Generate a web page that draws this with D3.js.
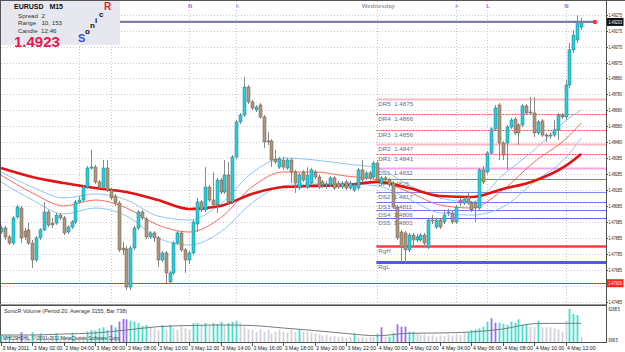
<!DOCTYPE html>
<html>
<head>
<meta charset="utf-8">
<script src="https://cdn.jsdelivr.net/npm/d3@7"></script>
<style>
body{margin:0;background:#fff;}
svg{display:block;font-family:"Liberation Sans",Arial,sans-serif;}
</style>
</head>
<body>
<div id="chart"></div>
<script>
// EURUSD M15, 3 May 2011 00:00 .. 4 May 2011 13:00 (one entry per bar)
var opens = [
1.47920,1.47945,1.47889,1.47851,1.48014,1.48070,1.47926,1.47933,1.47851,1.47745,
1.47883,1.47933,1.48045,1.47976,1.47976,1.48026,1.48008,1.47920,1.47951,1.47983,
1.48108,1.48120,1.48201,1.48320,1.48326,1.48233,1.48201,1.48320,1.48183,1.48145,
1.48101,1.47820,1.47814,1.47576,1.47820,1.47945,1.48045,1.48001,1.47889,1.47914,
1.47883,1.47745,1.47789,1.47608,1.47664,1.47851,1.47914,1.47808,1.47745,1.47789,
1.47970,1.48108,1.48058,1.48201,1.48120,1.48089,1.48245,1.48170,1.48276,1.48108,
1.48389,1.48608,1.48651,1.48826,1.48733,1.48683,1.48714,1.48639,1.48489,1.48489,
1.48376,1.48326,1.48370,1.48320,1.48370,1.48295,1.48195,1.48295,1.48201,1.48226,
1.48295,1.48264,1.48233,1.48214,1.48214,1.48258,1.48226,1.48201,1.48233,1.48195,
1.48183,1.48195,1.48308,1.48258,1.48289,1.48264,1.48351,1.48226,1.48258,1.48245,
1.48226,1.48076,1.47920,1.47914,1.47808,1.47901,1.47870,1.47870,1.47901,1.47826,
1.47995,1.47951,1.47995,1.47983,1.48039,1.48039,1.47983,1.48120,1.48101,1.48139,
1.48101,1.48101,1.48070,1.48308,1.48295,1.48414,1.48564,1.48714,1.48476,1.48476,
1.48576,1.48626,1.48589,1.48589,1.48708,1.48670,1.48664,1.48539,1.48614,1.48526,
1.48520,1.48526,1.48558,1.48651,1.48639,1.48839,1.49058,1.49120,1.49201];
var highs = [
1.47958,1.47958,1.47901,1.48020,1.48089,1.48083,1.47945,1.47976,1.47870,1.47895,
1.47945,1.48108,1.48058,1.48008,1.48039,1.48039,1.48020,1.47964,1.47995,1.48120,
1.48145,1.48214,1.48333,1.48433,1.48339,1.48245,1.48370,1.48370,1.48195,1.48158,
1.48114,1.47858,1.47833,1.47833,1.47958,1.48058,1.48058,1.48014,1.47926,1.47926,
1.47895,1.47801,1.47801,1.47676,1.47864,1.47926,1.47926,1.47820,1.47801,1.47995,
1.48133,1.48120,1.48326,1.48214,1.48295,1.48258,1.48258,1.48370,1.48358,1.48401,
1.48620,1.48664,1.48889,1.48839,1.48745,1.48714,1.48726,1.48651,1.48545,1.48501,
1.48433,1.48389,1.48389,1.48383,1.48383,1.48308,1.48289,1.48308,1.48326,1.48320,
1.48308,1.48276,1.48245,1.48239,1.48270,1.48270,1.48239,1.48239,1.48245,1.48239,
1.48226,1.48320,1.48370,1.48301,1.48301,1.48364,1.48370,1.48270,1.48270,1.48258,
1.48239,1.48089,1.47933,1.47926,1.47914,1.47914,1.47908,1.47914,1.47914,1.48008,
1.48026,1.48008,1.48008,1.48058,1.48064,1.48051,1.48089,1.48133,1.48139,1.48170,
1.48114,1.48114,1.48320,1.48333,1.48426,1.48576,1.48714,1.48726,1.48489,1.48589,
1.48633,1.48639,1.48601,1.48720,1.48720,1.48764,1.48764,1.48620,1.48626,1.48539,
1.48539,1.48620,1.48664,1.48664,1.48870,1.49101,1.49183,1.49276,1.49258];
var lows = [
1.47908,1.47870,1.47839,1.47839,1.48001,1.47851,1.47870,1.47839,1.47695,1.47733,
1.47870,1.47926,1.47951,1.47945,1.47964,1.47995,1.47901,1.47908,1.47939,1.47970,
1.48095,1.48108,1.48189,1.48308,1.48220,1.48189,1.48189,1.48170,1.48120,1.48083,
1.47795,1.47776,1.47558,1.47558,1.47808,1.47933,1.47995,1.47876,1.47876,1.47858,
1.47701,1.47733,1.47601,1.47595,1.47651,1.47839,1.47795,1.47664,1.47720,1.47776,
1.47920,1.48045,1.48045,1.48108,1.48076,1.48039,1.48158,1.48158,1.48095,1.48095,
1.48376,1.48595,1.48639,1.48720,1.48683,1.48670,1.48626,1.48445,1.48464,1.48326,
1.48345,1.48314,1.48308,1.48308,1.48226,1.48164,1.48183,1.48233,1.48189,1.48214,
1.48251,1.48189,1.48195,1.48189,1.48201,1.48183,1.48189,1.48189,1.48183,1.48183,
1.48170,1.48183,1.48233,1.48245,1.48245,1.48251,1.48233,1.48214,1.48233,1.48201,
1.48064,1.47870,1.47733,1.47726,1.47795,1.47826,1.47858,1.47858,1.47826,1.47814,
1.47970,1.47939,1.47939,1.47970,1.48020,1.47970,1.47970,1.48083,1.48089,1.48089,
1.48045,1.47983,1.48058,1.48220,1.48283,1.48401,1.48551,1.48370,1.48370,1.48308,
1.48564,1.48526,1.48464,1.48576,1.48651,1.48651,1.48514,1.48526,1.48514,1.48483,
1.48501,1.48514,1.48495,1.48626,1.48620,1.48820,1.49039,1.49101,1.49183];
var closes = [
1.47945,1.47889,1.47851,1.48008,1.48076,1.47883,1.47889,1.47851,1.47745,1.47883,
1.47933,1.48045,1.47964,1.47964,1.48026,1.48008,1.47914,1.47951,1.47983,1.48108,
1.48120,1.48201,1.48320,1.48326,1.48233,1.48201,1.48320,1.48183,1.48133,1.48101,
1.47808,1.47808,1.47576,1.47820,1.47945,1.48045,1.48008,1.47889,1.47914,1.47883,
1.47745,1.47789,1.47664,1.47664,1.47851,1.47914,1.47808,1.47745,1.47789,1.47983,
1.48108,1.48058,1.48201,1.48120,1.48089,1.48245,1.48170,1.48276,1.48108,1.48389,
1.48608,1.48651,1.48826,1.48733,1.48695,1.48701,1.48639,1.48483,1.48483,1.48370,
1.48358,1.48376,1.48326,1.48370,1.48295,1.48226,1.48276,1.48245,1.48276,1.48308,
1.48264,1.48201,1.48214,1.48220,1.48258,1.48195,1.48201,1.48226,1.48195,1.48226,
1.48214,1.48308,1.48245,1.48289,1.48258,1.48351,1.48245,1.48258,1.48245,1.48214,
1.48076,1.47883,1.47826,1.47808,1.47901,1.47870,1.47889,1.47901,1.47851,1.47995,
1.47989,1.47995,1.47951,1.48026,1.48045,1.47983,1.48076,1.48101,1.48126,1.48101,
1.48058,1.48070,1.48308,1.48233,1.48414,1.48564,1.48695,1.48476,1.48401,1.48576,
1.48620,1.48539,1.48539,1.48708,1.48664,1.48664,1.48539,1.48608,1.48526,1.48520,
1.48526,1.48558,1.48651,1.48639,1.48839,1.49058,1.49151,1.49233,1.49233];

// volume per bar, and its colour class (t = above average, p = climax, g = low)
var volumes = [
1600,1600,1600,1300,1400,2100,1600,1300,2100,1500,
1900,1100,1300,1200,1900,1400,1300,1200,2000,1500,
1300,1500,2200,2500,2400,2800,3000,2500,3400,3000,
4000,4470,4420,4170,3990,3750,3200,3390,3090,2800,
2500,3390,2620,3390,2800,2500,3090,2800,2600,3750,
3750,3390,3750,3200,3750,3570,3930,3390,3750,3930,
4170,3750,3090,2620,2500,2190,2620,2190,2500,1900,
2190,2500,2190,2010,2500,2190,2620,2190,2190,2010,
1900,1700,1500,1600,1300,1400,1200,1300,1100,1200,
1900,1100,1200,1000,1300,1200,1900,2980,1290,1290,
2010,3520,3090,3090,2190,2190,1900,1600,1700,1500,
1600,1300,1500,1400,1700,1500,1800,1600,2010,2190,
2495,2620,2800,3090,3990,4600,3810,3810,3570,3390,
3990,3810,4420,3390,3570,3090,2980,4170,2980,2980,
2980,2800,2620,2190,4170,6268,5370,5190,1290];
var volClass =
"tgtggpggtg"+"tgggtgggtg"+"ggttttttpt"+"ppptttttgg"+"gtgtgggggt"+
"tgtgtttgtt"+"tggggggggg"+"ggggggtggg"+"gggggggggg"+"tgggggtpgt"+
"tpppttgggg"+"gggggggggt"+"tttttppttt"+"tttttggtgg"+"gggggtttg";

// Sonic R dragon, read every 8 bars
var lineBars  = [0,8,16,24,32,40,48,56,64,72,80,88,96,104,112,120,128,136,144,148];
var emaHigh   = [1.48295,1.48201,1.48133,1.48158,1.48120,1.48020,1.47995,1.48095,1.48289,1.48383,1.48370,1.48345,1.48320,1.48214,1.48133,1.48108,1.48276,1.48433,1.48614,1.48683];
var emaClose  = [1.48276,1.48164,1.48083,1.48120,1.48070,1.47964,1.47920,1.48008,1.48201,1.48295,1.48295,1.48270,1.48245,1.48170,1.48089,1.48070,1.48183,1.48358,1.48501,1.48601];
var emaLow    = [1.48233,1.48120,1.48033,1.48070,1.48020,1.47883,1.47839,1.47920,1.48101,1.48208,1.48220,1.48220,1.48208,1.48126,1.48039,1.48026,1.48076,1.48233,1.48383,1.48508];
var ema89     = [1.48320,1.48264,1.48226,1.48195,1.48170,1.48120,1.48064,1.48083,1.48158,1.48201,1.48208,1.48214,1.48233,1.48195,1.48145,1.48139,1.48189,1.48239,1.48333,1.48408];
var volAverage= [1597,1600,1780,1960,2500,3090,3300,3390,3300,2850,2400,1870,1470,1900,1960,2140,2670,3630,3700,3700];

// pivot levels of 4 May
var levelNames  = ["DR5","DR4","DR3","DR2","DR1","DS1","DP","DS2","DS3","DS4","DS5","RgH","RgL"];
var levelValues = [1.4875,1.4866,1.4856,1.4847,1.4841,1.4832,1.4825,1.4817,1.4811,1.4806,1.4801,1.4783,1.4773];
var levelStart  = 96;

// session separators
var sessionBars = [20,28,48,60,96,116,124,144];
var sessionTags = [">","L","N","<","Wednesday",">","L","N"];

// axes
var priceTicks = [1.49275,1.49175,1.49075,1.48975,1.48880,1.48780,1.48680,1.48580,1.48480,1.48385,
                  1.48285,1.48185,1.48085,1.47985,1.47885,1.47785,1.47685,1.47585,1.47485];
var timeTicks  = [0,8,16,24,32,40,48,56,64,72,80,88,96,104,112,120,128,136,144];
var timeLabels = ["3 May 2011","3 May 02:00","3 May 04:00","3 May 06:00","3 May 08:00","3 May 10:00",
                  "3 May 12:00","3 May 14:00","3 May 16:00","3 May 18:00","3 May 20:00","3 May 22:00",
                  "4 May 00:00","4 May 02:00","4 May 04:00","4 May 06:00","4 May 08:00","4 May 10:00","4 May 12:00"];
var volTicks   = [6268.5, 698.5];

var bidPrice = 1.49233, bidMarkBar = 151.5, alertPrice = 1.47600;
var infoLines = ["Spread  2","Range   10, 153","Candle  12:46"];

var W = 625, H = 352, axisX = 606;

var svg = d3.select("#chart").append("svg").attr("width", W).attr("height", H);

var x  = d3.scaleLinear().domain([0, 148]).range([1, 581.2]);
var y  = d3.scaleLinear().domain([1.4747, 1.4937]).range([304, 0]);
var yv = d3.scaleLinear().domain([340, 6268.5]).range([342, 309]);
var px = function(v){ return Math.round(v) + 0.5; };

svg.append("rect").attr("width", W).attr("height", H).attr("fill", "#fff");

// grid
svg.append("g").selectAll("line").data(priceTicks).enter().append("line")
   .attr("x1", 1).attr("x2", axisX)
   .attr("y1", function(d){ return px(y(d)); }).attr("y2", function(d){ return px(y(d)); })
   .attr("stroke", "#cdcdcd").attr("stroke-dasharray", "1,2");

svg.append("g").selectAll("line").data(sessionBars).enter().append("line")
   .attr("x1", function(d){ return px(x(d)); }).attr("x2", function(d){ return px(x(d)); })
   .attr("y1", 1).attr("y2", 304)
   .attr("stroke", "#c4c4dc").attr("stroke-dasharray", "1,2");

svg.append("g").selectAll("text").data(sessionBars).enter().append("text")
   .attr("x", function(d){ return x(d) + 1; }).attr("y", 8)
   .attr("text-anchor", "middle").attr("font-size", 6).attr("font-weight", "bold")
   .attr("fill", function(d, i){ return sessionTags[i] == "Wednesday" ? "#9a9aae" : "#a070ee"; })
   .text(function(d, i){ return sessionTags[i]; });

// alert line near the bottom
svg.append("line").attr("x1", 1).attr("x2", axisX)
   .attr("y1", px(y(alertPrice))).attr("y2", px(y(alertPrice)))
   .attr("stroke", "#ff3030").attr("stroke-width", 1);

// pivot levels
var levelStyle = {
  DR5:["#ffb8c4",2,null], DR4:["#ff5050",1,"2,1"], DR3:["#ff5050",1,"2,1"], DR2:["#ffb8c4",2,null],
  DR1:["#ff5050",1,"2,1"], DS1:["#f4a6ea",2,null], DP:["#7078f0",1,null], DS2:["#8088f0",1,null],
  DS3:["#7078f0",1,null], DS4:["#7078f0",1,null], DS5:["#6068f0",1,null], RgH:["#ff3b3b",2.5,null],
  RgL:["#5058f0",3,null]
};
var lv = svg.append("g");
lv.selectAll("line").data(levelValues).enter().append("line")
  .attr("x1", x(levelStart) - 1).attr("x2", axisX)
  .attr("y1", function(d){ return px(y(d)); }).attr("y2", function(d){ return px(y(d)); })
  .attr("stroke", function(d, i){ return levelStyle[levelNames[i]][0]; })
  .attr("stroke-width", function(d, i){ return levelStyle[levelNames[i]][1]; })
  .attr("stroke-dasharray", function(d, i){ return levelStyle[levelNames[i]][2]; });
lv.selectAll("text").data(levelValues).enter().append("text")
  .attr("x", x(levelStart) + 1).attr("y", function(d){ return y(d) + 7; })
  .attr("font-size", 6.2).attr("fill", "#6a6a8c").attr("xml:space", "preserve")
  .text(function(d, i){
    var n = levelNames[i];
    return (n == "RgH" || n == "RgL") ? n : n + "  " + d3.format(".4f")(d);
  });

// Sonic R lines
var line = function(vals){
  return d3.line().x(function(d, i){ return x(lineBars[i]); })
               .y(function(d){ return y(d); }).curve(d3.curveMonotoneX)(vals);
};
svg.append("path").attr("d", line(emaHigh)).attr("fill", "none").attr("stroke", "#86bdf2").attr("stroke-width", 0.9);
svg.append("path").attr("d", line(emaLow)).attr("fill", "none").attr("stroke", "#86bdf2").attr("stroke-width", 0.9);
svg.append("path").attr("d", line(emaClose)).attr("fill", "none").attr("stroke", "#ff5a48").attr("stroke-width", 0.9);
svg.append("path").attr("d", line(ema89)).attr("fill", "none").attr("stroke", "#e01414").attr("stroke-width", 2.6);

// candles
var idx = d3.range(opens.length);
var cg = svg.append("g");
cg.selectAll("line").data(idx).enter().append("line")
  .attr("x1", function(i){ return px(x(i)); }).attr("x2", function(i){ return px(x(i)); })
  .attr("y1", function(i){ return y(highs[i]); }).attr("y2", function(i){ return y(lows[i]); })
  .attr("stroke", "#8a8a8a").attr("stroke-width", 1);
cg.selectAll("rect").data(idx).enter().append("rect")
  .attr("x", function(i){ return Math.round(x(i)) - 1; })
  .attr("width", 3)
  .attr("y", function(i){ return y(Math.max(opens[i], closes[i])); })
  .attr("height", function(i){ return Math.max(1, Math.abs(y(opens[i]) - y(closes[i]))); })
  .attr("fill", function(i){ return closes[i] >= opens[i] ? "#26cddc" : "#ad977f"; })
  .attr("stroke", function(i){ return closes[i] >= opens[i] ? "#1d7f8a" : "#6e5e4c"; })
  .attr("stroke-width", 0.5);

// bid line with marker
svg.append("line").attr("x1", 1).attr("x2", x(bidMarkBar))
   .attr("y1", y(bidPrice)).attr("y2", y(bidPrice))
   .attr("stroke", "#7c7ca6").attr("stroke-width", 2.4);
svg.append("circle").attr("cx", x(bidMarkBar)).attr("cy", y(bidPrice)).attr("r", 2.2).attr("fill", "#ff3030");

// info box
var ib = svg.append("g");
ib.append("rect").attr("x", 0).attr("y", 0).attr("width", 120).attr("height", 45).attr("fill", "#e7e7f0");
ib.append("text").attr("x", 14).attr("y", 8.5).attr("font-size", 7).attr("font-weight", "bold").attr("fill", "#111")
  .attr("xml:space", "preserve").text("EURUSD   M15");
ib.selectAll(".info").data(infoLines).enter().append("text")
  .attr("x", 18).attr("y", function(d, i){ return 18 + i * 7.3; })
  .attr("font-size", 6.2).attr("fill", "#333").attr("xml:space", "preserve").text(function(d){ return d; });
ib.append("text").attr("x", 14).attr("y", 47).attr("font-size", 15).attr("font-weight", "bold")
  .attr("fill", "#e8184c").text(d3.format(".4f")(bidPrice));
var sonic = [["S",78,42,11,"#3050e0"],["o",85,34,8,"#111"],["n",90,28,8,"#111"],["i",95,23,8,"#111"],["c",99,17,8,"#111"],["R",104,10,10,"#f02020"]];
ib.selectAll(".s").data(sonic).enter().append("text")
  .attr("x", function(d){ return d[1]; }).attr("y", function(d){ return d[2]; })
  .attr("font-size", function(d){ return d[3]; }).attr("font-weight", "bold")
  .attr("fill", function(d){ return d[4]; }).text(function(d){ return d[0]; });

// panel frames
svg.append("line").attr("x1", 0).attr("x2", W).attr("y1", 0.5).attr("y2", 0.5).attr("stroke", "#555");
svg.append("line").attr("x1", 0.5).attr("x2", 0.5).attr("y1", 0).attr("y2", 342).attr("stroke", "#555");
svg.append("line").attr("x1", 0).attr("x2", axisX).attr("y1", 304.5).attr("y2", 304.5).attr("stroke", "#9a9a9a");
svg.append("line").attr("x1", 0).attr("x2", axisX).attr("y1", 305.5).attr("y2", 305.5).attr("stroke", "#505050");
svg.append("line").attr("x1", 0).attr("x2", axisX).attr("y1", 342.5).attr("y2", 342.5).attr("stroke", "#505050");
svg.append("line").attr("x1", axisX + 0.5).attr("x2", axisX + 0.5).attr("y1", 0).attr("y2", 343).attr("stroke", "#505050");

// price axis: labels squeezed horizontally so they fit the narrow strip
var axisLabel = function(sel, yPos, txt, colour){
  sel.append("text")
     .attr("transform", "translate(" + (axisX + 2.5) + "," + (yPos + 2) + ") scale(0.72,1)")
     .attr("font-size", 5.2).attr("fill", colour).text(txt);
};
var shownTicks = priceTicks.filter(function(d){ return Math.abs(y(d) - y(alertPrice)) > 5; });
var pa = svg.append("g");
pa.selectAll("line").data(priceTicks).enter().append("line")
  .attr("x1", axisX).attr("x2", axisX + 2)
  .attr("y1", function(d){ return px(y(d)); }).attr("y2", function(d){ return px(y(d)); }).attr("stroke", "#505050");
shownTicks.forEach(function(d){ axisLabel(pa, y(d), d3.format(".5f")(d), "#222"); });
pa.append("rect").attr("x", axisX + 1).attr("y", y(bidPrice) - 4).attr("width", 16.5).attr("height", 8).attr("fill", "#111");
axisLabel(pa, y(bidPrice), d3.format(".5f")(bidPrice), "#fff");
pa.append("rect").attr("x", axisX + 1).attr("y", y(alertPrice) - 4).attr("width", 16.5).attr("height", 8).attr("fill", "#ff2020");
axisLabel(pa, y(alertPrice), d3.format(".5f")(alertPrice), "#fff");

// volume panel
var volColor = {t:"#3fe0cf", p:"#9a6ee8", g:"#d2d2da"};
svg.append("g").selectAll("line").data(idx).enter().append("line")
  .attr("x1", function(i){ return Math.round(x(i)) + 0.5; }).attr("x2", function(i){ return Math.round(x(i)) + 0.5; })
  .attr("y1", yv(340)).attr("y2", function(i){ return yv(volumes[i]); })
  .attr("stroke", function(i){ return volColor[volClass[i]]; }).attr("stroke-width", 1.8);
svg.append("path")
  .attr("d", d3.line().x(function(d, i){ return x(lineBars[i]); }).y(function(d){ return yv(d); }).curve(d3.curveMonotoneX)(volAverage))
  .attr("fill", "none").attr("stroke", "#7a7a7a").attr("stroke-width", 1);
svg.append("text").attr("x", 4).attr("y", 313).attr("font-size", 5.4).attr("fill", "#333")
   .text("SonicR Volume (Period 20, Average 3155, Bar 738)");
svg.append("text").attr("x", 3).attr("y", 340).attr("font-size", 4.8).attr("fill", "#333")
   .text("MHCSH5HL, \u00a9 2001-2011 MetaQuotes Software Corp.");
var va = svg.append("g");
volTicks.forEach(function(d){ axisLabel(va, yv(d), d3.format(".1f")(d), "#222"); });

// time axis
var ta = svg.append("g");
ta.selectAll("line").data(timeTicks).enter().append("line")
  .attr("x1", function(d){ return px(x(d)); }).attr("x2", function(d){ return px(x(d)); })
  .attr("y1", 342).attr("y2", 346).attr("stroke", "#505050");
ta.selectAll("text").data(timeTicks).enter().append("text")
  .attr("x", function(d){ return x(d) + 1.5; }).attr("y", 349.5)
  .attr("font-size", 5.2).attr("fill", "#222").text(function(d, i){ return timeLabels[i]; });
</script>
</body>
</html>
